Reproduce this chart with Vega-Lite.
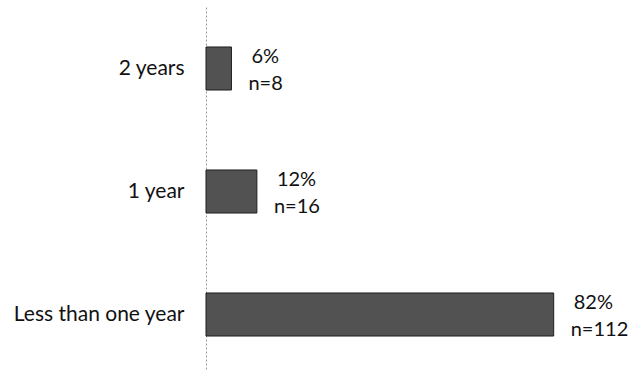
{
  "$schema": "https://vega.github.io/schema/vega-lite/v6.json",
  "autosize": "none",
  "width": 424,
  "height": 369,
  "padding": {"left": 206, "top": 7, "right": 9, "bottom": 0},
  "background": "white",
  "data": {"values": [
    {"category": "2 years", "percent": 6, "pct": "6%", "n": "n=8"},
    {"category": "1 year", "percent": 12, "pct": "12%", "n": "n=16"},
    {"category": "Less than one year", "percent": 82, "pct": "82%", "n": "n=112"}
  ]},
  "config": {"view": {"stroke": null}, "font": "Lato"},
  "encoding": {
    "y": {"field": "category", "type": "nominal", "sort": null,
      "scale": {"paddingInner": 0.65, "paddingOuter": 0.325},
      "axis": {"title": null, "ticks": false, "labelPadding": 22, "labelFontSize": 21, "labelColor": "#111111", "labelFont": "Lato",
        "domainColor": "#9a9a9a", "domainDash": [2, 2], "domainWidth": 1}},
    "x": {"field": "percent", "type": "quantitative", "scale": {"domain": [0, 100]}, "axis": null}
  },
  "layer": [
    {"mark": {"type": "bar", "color": "#525252", "stroke": "#1e1e1e", "strokeWidth": 1}},
    {"mark": {"type": "text", "align": "left", "dx": 20, "dy": -12, "fontSize": 20, "color": "#111111"},
      "encoding": {"text": {"field": "pct"}}},
    {"mark": {"type": "text", "align": "left", "dx": 17, "dy": 15, "fontSize": 20, "color": "#111111"},
      "encoding": {"text": {"field": "n"}}}
  ]
}
